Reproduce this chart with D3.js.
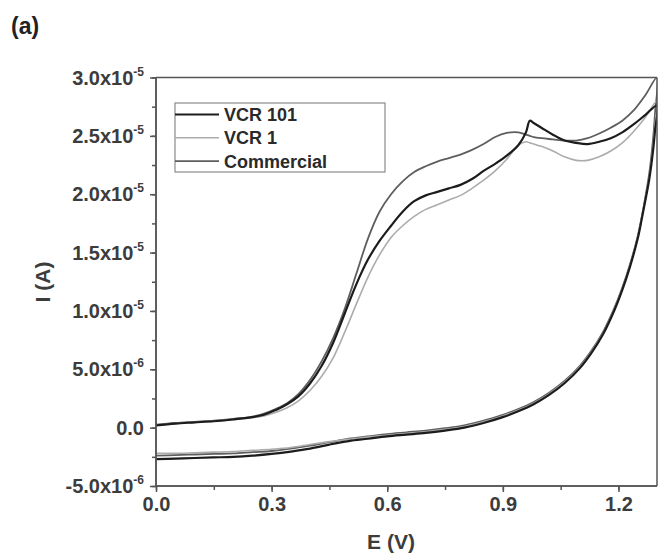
<!DOCTYPE html>
<html>
<head>
<meta charset="utf-8">
<script src="https://cdn.jsdelivr.net/npm/d3@7"></script>
<style>
  body { margin: 0; background: #fff; }
  svg { display: block; font-family: "Liberation Sans", Arial, sans-serif; font-weight: bold; }
</style>
</head>
<body>
<svg width="658" height="556"></svg>
<script>
// values in micro-amps (1e-6 A), potential in V
var seriesNames = ["VCR 101", "VCR 1", "Commercial"];

var eForward = [0, 0.05, 0.1, 0.15, 0.2, 0.25, 0.28, 0.31, 0.34, 0.37, 0.4, 0.43, 0.46, 0.49, 0.52, 0.55,
  0.58, 0.61, 0.64, 0.67, 0.7, 0.73, 0.76, 0.79, 0.82, 0.85, 0.88, 0.91, 0.94, 0.96, 0.97, 0.98, 1.0,
  1.03, 1.06, 1.09, 1.12, 1.15, 1.18, 1.21, 1.24, 1.27, 1.3];

var vcr101Forward = [0.2, 0.35, 0.45, 0.55, 0.7, 0.9, 1.1, 1.5, 2.0, 2.7, 3.8, 5.3, 7.3, 9.8, 12.3, 14.4,
  16.0, 17.3, 18.5, 19.4, 19.9, 20.2, 20.5, 20.8, 21.3, 22.0, 22.6, 23.3, 24.2, 25.3, 26.3, 26.1, 25.7,
  25.1, 24.6, 24.4, 24.3, 24.5, 24.8, 25.3, 26.0, 26.8, 27.6];
var vcr1Forward = [0.2, 0.35, 0.45, 0.55, 0.7, 0.85, 1.0, 1.3, 1.7, 2.3, 3.2, 4.4, 6.0, 8.2, 10.6, 12.9,
  14.8, 16.3, 17.3, 18.1, 18.7, 19.1, 19.5, 19.9, 20.5, 21.2, 22.0, 23.0, 24.2, 24.5, 24.4, 24.3, 24.1,
  23.7, 23.2, 22.9, 22.9, 23.2, 23.7, 24.4, 25.4, 26.6, 28.0];
var commercialForward = [0.25, 0.4, 0.5, 0.6, 0.75, 0.95, 1.2, 1.6, 2.1, 2.9, 4.1, 5.7, 7.7, 10.2, 13.2, 16.2,
  18.5, 20.0, 21.1, 21.9, 22.4, 22.8, 23.1, 23.4, 23.8, 24.3, 24.9, 25.25, 25.3, 25.1, 25.0, 24.9, 24.8,
  24.7, 24.6, 24.6, 24.8, 25.2, 25.7, 26.3, 27.2, 28.5, 30.0];

var eReverse = [1.3, 1.295, 1.29, 1.28, 1.27, 1.26, 1.25, 1.23, 1.21, 1.19, 1.16, 1.13, 1.1, 1.06, 1.02,
  0.98, 0.94, 0.9, 0.85, 0.8, 0.75, 0.7, 0.65, 0.6, 0.55, 0.5, 0.45, 0.4, 0.35, 0.3, 0.25, 0.2, 0.15,
  0.1, 0.05, 0];

var vcr101Reverse = [27.6, 25.5, 23.8, 21.3, 19.5, 17.8, 16.2, 13.8, 11.8, 10.1, 8.0, 6.4, 5.1, 3.8, 2.8,
  2.0, 1.4, 0.9, 0.4, 0.0, -0.25, -0.45, -0.6, -0.75, -0.95, -1.15, -1.45, -1.8, -2.05, -2.25, -2.4,
  -2.5, -2.55, -2.6, -2.65, -2.7];
var vcr1Reverse = [28.0, 26.0, 24.2, 21.5, 19.6, 17.9, 16.3, 13.9, 11.9, 10.2, 8.1, 6.5, 5.2, 3.9, 2.9,
  2.1, 1.5, 1.0, 0.5, 0.1, -0.15, -0.35, -0.5, -0.65, -0.8, -1.0, -1.2, -1.45, -1.7, -1.85, -1.95,
  -2.05, -2.1, -2.15, -2.2, -2.2];
var commercialReverse = [30.0, 27.0, 24.8, 21.8, 19.8, 18.0, 16.4, 14.0, 12.0, 10.3, 8.2, 6.6, 5.3, 4.0, 3.0,
  2.2, 1.6, 1.1, 0.6, 0.2, -0.05, -0.25, -0.4, -0.55, -0.75, -0.95, -1.25, -1.55, -1.8, -2.0, -2.1,
  -2.2, -2.25, -2.3, -2.35, -2.4];

var xTicks = [0, 0.3, 0.6, 0.9, 1.2];
var xTickLabels = ["0.0", "0.3", "0.6", "0.9", "1.2"];
var yTicks = [-5, 0, 5, 10, 15, 20, 25, 30];
var yTickBase = ["-5.0x10", "0.0", "5.0x10", "1.0x10", "1.5x10", "2.0x10", "2.5x10", "3.0x10"];
var yTickExp = ["-6", "", "-6", "-5", "-5", "-5", "-5", "-5"];

var svg = d3.select("svg");
var plotLeft = 156, plotRight = 657, plotTop = 77.5, plotBottom = 486;

var x = d3.scaleLinear().domain([0, 1.3]).range([plotLeft, plotRight]);
var y = d3.scaleLinear().domain([-5, 30]).range([plotBottom, plotTop]);

var axisColor = "#555";
var textColor = "#3c3c3c";

svg.append("defs").append("clipPath").attr("id", "clip")
  .append("rect").attr("x", plotLeft).attr("y", plotTop)
  .attr("width", plotRight - plotLeft).attr("height", plotBottom - plotTop);

// series
var series = [
  {name: "Commercial", fwd: commercialForward, rev: commercialReverse, color: "#5e5e5e", w: 1.8},
  {name: "VCR 1", fwd: vcr1Forward, rev: vcr1Reverse, color: "#acacac", w: 1.6},
  {name: "VCR 101", fwd: vcr101Forward, rev: vcr101Reverse, color: "#1c1c1c", w: 2.2}
];

var line = d3.line()
  .x(function(d) { return x(d[0]); })
  .y(function(d) { return y(d[1]); })
  .curve(d3.curveCatmullRom.alpha(0.5));

var plot = svg.append("g").attr("clip-path", "url(#clip)");
series.forEach(function(s) {
  var pts = eForward.map(function(e, i) { return [e, s.fwd[i]]; })
    .concat(eReverse.slice(1).map(function(e, i) { return [e, s.rev[i + 1]]; }));
  plot.append("path")
    .datum(pts)
    .attr("fill", "none")
    .attr("stroke", s.color)
    .attr("stroke-width", s.w)
    .attr("stroke-linejoin", "round")
    .attr("d", line);
});

// frame
svg.append("line").attr("x1", plotLeft).attr("x2", plotRight).attr("y1", plotTop).attr("y2", plotTop)
  .attr("stroke", axisColor).attr("stroke-width", 1.5);
svg.append("line").attr("x1", plotRight).attr("x2", plotRight).attr("y1", plotTop).attr("y2", plotBottom)
  .attr("stroke", axisColor).attr("stroke-width", 1.5);

// x axis
var gx = svg.append("g").attr("transform", "translate(0," + plotBottom + ")");
gx.append("g").call(d3.axisBottom(x).tickValues(d3.range(0, 1.31, 0.15)).tickSize(4).tickFormat(""));
gx.append("g").call(d3.axisBottom(x).tickValues(xTicks).tickSize(6)
  .tickFormat(function(d, i) { return xTickLabels[i]; }));
gx.selectAll("path, line").attr("stroke", axisColor).attr("stroke-width", 1.5);
gx.selectAll(".domain").attr("d", "M" + plotLeft + ",0H" + plotRight);
gx.selectAll("text").attr("fill", textColor).style("font-size", "20px").style("font-weight", "bold")
  .attr("y", 11).attr("dy", "0.71em");

// y axis
var gy = svg.append("g").attr("transform", "translate(" + plotLeft + ",0)");
gy.append("g").call(d3.axisLeft(y).tickValues(d3.range(-5, 30.1, 2.5)).tickSize(4).tickFormat(""));
gy.append("g").call(d3.axisLeft(y).tickValues(yTicks).tickSize(6).tickFormat(""));
gy.selectAll("path, line").attr("stroke", axisColor).attr("stroke-width", 1.5);
gy.selectAll(".domain").attr("d", "M0," + plotTop + "V" + plotBottom);

yTicks.forEach(function(v, i) {
  var t = svg.append("text")
    .attr("x", plotLeft - 12)
    .attr("y", y(v) + 7)
    .attr("text-anchor", "end")
    .attr("fill", textColor)
    .style("font-size", "20px");
  t.append("tspan").text(yTickBase[i]);
  if (yTickExp[i]) {
    t.append("tspan").attr("dy", -9).style("font-size", "12px").text(yTickExp[i]);
  }
});

// axis titles
svg.append("text").attr("x", 391).attr("y", 549).attr("text-anchor", "middle")
  .attr("fill", textColor).style("font-size", "21px").text("E (V)");
svg.append("text").attr("transform", "translate(50,282) rotate(-90)").attr("text-anchor", "middle")
  .attr("fill", textColor).style("font-size", "21px").text("I (A)");
svg.append("text").attr("x", 11).attr("y", 34).attr("fill", "#222")
  .style("font-size", "23px").text("(a)");

// legend
var legendOrder = [series[2], series[1], series[0]];
svg.append("rect").attr("x", 175).attr("y", 103).attr("width", 210).attr("height", 69)
  .attr("fill", "#fff").attr("stroke", "#8a8a8a").attr("stroke-width", 1.2);
legendOrder.forEach(function(s, i) {
  var cy = 114.5 + i * 23.3;
  svg.append("line").attr("x1", 175).attr("x2", 219).attr("y1", cy).attr("y2", cy)
    .attr("stroke", s.color).attr("stroke-width", s.w);
  svg.append("text").attr("x", 224).attr("y", cy + 6.5).attr("fill", "#2a2a2a")
    .style("font-size", "18px").text(s.name);
});
</script>
</body>
</html>
